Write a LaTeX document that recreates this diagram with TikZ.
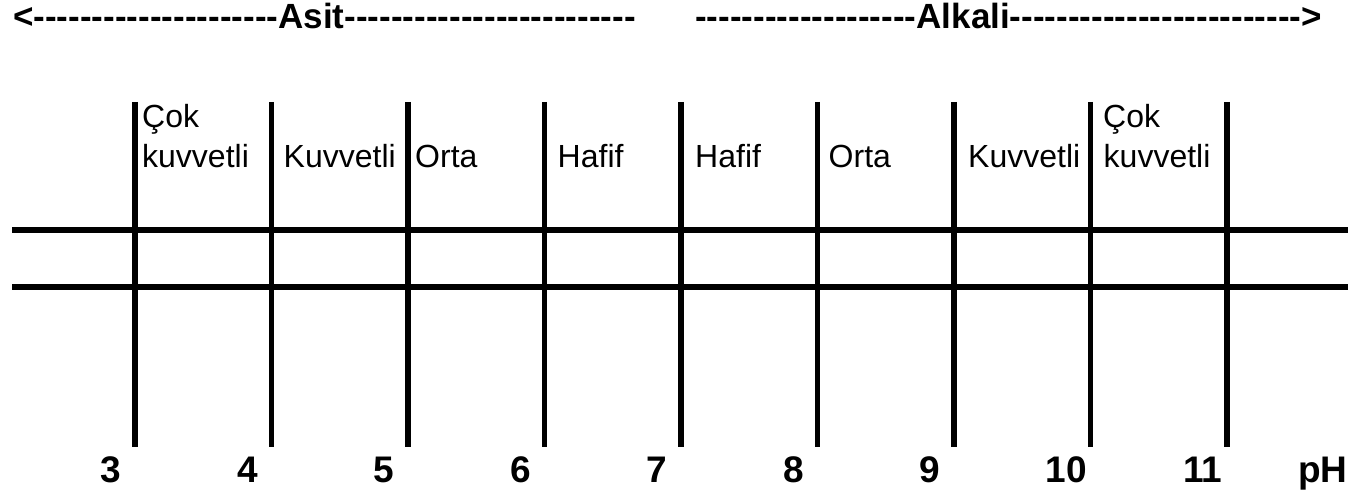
\documentclass[tikz,border=0pt]{standalone}
\usepackage{fontspec}
\newfontfamily\arial{Liberation Sans}
\usepackage{tikz}
\usetikzlibrary{positioning}

\tikzset{
  gridline/.style={line width=5.5pt},
  zonelbl/.style={anchor=base west, inner sep=0pt, font=\arial\fontsize{32}{38}\selectfont},
  phnum/.style={anchor=base, inner sep=0pt, font=\arial\bfseries\fontsize{37}{42}\selectfont},
  headtxt/.style={inner sep=0pt, font=\arial\bfseries\fontsize{35}{40}\selectfont}
}

\begin{document}
\begin{tikzpicture}[x=1pt, y=-1pt]
  \useasboundingbox (0,0) rectangle (1348,492);

  % acid / alkali heading
  \node[headtxt, anchor=base west] (asit) at (13,29)
    {<---------------------Asit-------------------------};
  \node[headtxt, anchor=base east] (alkali) at (1322,29)
    {-------------------Alkali------------------------->};

  % two horizontal rails
  \coordinate (railAw) at (12,230);
  \coordinate (railAe) at (1348,230);
  \coordinate (railBw) at (12,287);
  \coordinate (railBe) at (1348,287);
  \draw[gridline] (railAw) -- (railAe);
  \draw[gridline] (railBw) -- (railBe);

  % pH division lines and numbers
  \foreach \i in {0,...,8} {
    \coordinate (top\i) at ({135+136.5*\i},102);
    \coordinate (bot\i) at ({135+136.5*\i},447);
    \draw[gridline] (top\i) -- (bot\i);
    \pgfmathtruncatemacro{\ph}{\i+3}
    \node[phnum] (num\i) at ({111+136.5*\i},482) {\ph};
  }
  \node[phnum] (phlbl) at (1323,482) {pH};

  % strength labels
  \foreach \i/\off/\txt in {0/7/kuvvetli, 1/12/Kuvvetli, 2/7/Orta, 3/13/Hafif,
                            4/14/Hafif, 5/11/Orta, 6/14/Kuvvetli, 7/13/kuvvetli} {
    \node[zonelbl] (lbl\i) at ({135+136.5*\i+\off},167) {\txt};
  }
  \node[zonelbl] (cok0) at (142,128) {Çok};
  \node[zonelbl] (cok7) at (1103,128) {Çok};
\end{tikzpicture}
\end{document}
